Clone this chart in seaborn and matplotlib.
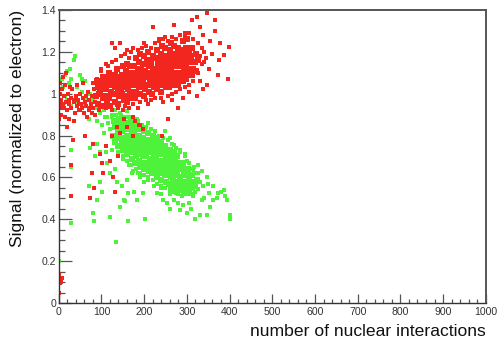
import matplotlib
matplotlib.use("Agg")
import matplotlib.pyplot as plt
import seaborn as sns
import pandas as pd
from matplotlib.ticker import MultipleLocator

# ---------------- data ----------------
red_core = [
    (91,0.95),(88,0.99),(93,1.03),(90,1.06),
    (99,0.94),(103,0.98),(97,1.01),(101,1.05),(104,1.08),
    (112,0.95),(108,0.99),(111,1.02),(107,1.05),(113,1.08),
    (121,0.94),(118,0.98),(123,1.01),(119,1.04),(122,1.07),(117,1.10),
    (131,0.96),(128,1.00),(133,1.03),(129,1.06),(132,1.09),
    (139,0.95),(142,0.99),(138,1.02),(143,1.05),(141,1.08),(137,1.12),
    (152,0.97),(148,1.00),(151,1.03),(153,1.06),(149,1.09),(150,1.13),
    (161,0.96),(158,0.99),(163,1.02),(159,1.05),(162,1.08),(157,1.11),(160,1.14),
    (171,0.98),(168,1.01),(173,1.04),(169,1.07),(172,1.10),(167,1.13),
    (179,0.98),(182,1.01),(178,1.04),(183,1.07),(181,1.10),(177,1.13),(180,1.17),
    (191,1.00),(188,1.03),(193,1.06),(189,1.09),(192,1.12),(187,1.15),(190,1.19),
    (199,0.99),(202,1.02),(198,1.05),(203,1.08),(201,1.11),(197,1.14),(200,1.18),
    (211,1.01),(208,1.04),(213,1.07),(209,1.10),(212,1.13),(207,1.16),(210,1.20),
    (219,1.00),(222,1.03),(218,1.06),(223,1.09),(221,1.12),(217,1.15),(220,1.18),
    (231,1.02),(228,1.05),(233,1.08),(229,1.11),(232,1.14),(227,1.17),(230,1.21),
    (239,1.01),(242,1.04),(238,1.07),(243,1.10),(241,1.13),(237,1.16),(240,1.19),(242,1.23),
    (251,1.03),(248,1.06),(253,1.09),(249,1.12),(252,1.15),(247,1.18),(250,1.22),
    (259,1.03),(262,1.06),(258,1.09),(263,1.12),(261,1.15),(257,1.18),(260,1.21),(262,1.24),
    (271,1.04),(268,1.07),(273,1.10),(269,1.13),(272,1.16),(267,1.19),(270,1.23),
    (279,1.04),(282,1.07),(278,1.10),(283,1.13),(281,1.16),(277,1.19),(280,1.22),
    (291,1.06),(288,1.09),(293,1.12),(289,1.15),(292,1.18),(287,1.21),(290,1.25),
    (299,1.07),(302,1.10),(298,1.13),(303,1.16),(301,1.19),(297,1.22),(300,1.26),
    (311,1.09),(308,1.12),(313,1.15),(309,1.18),(312,1.22),
    (321,1.11),(318,1.15),(322,1.19),
    (95,1.00),(105,1.03),(115,1.06),(125,1.05),(135,1.00),(145,1.02),(155,1.07),
    (165,1.05),(175,1.09),(185,1.12),(195,1.04),(205,1.09),(215,1.14),(225,1.10),
    (235,1.12),(245,1.08),(255,1.13),(265,1.18),(275,1.14),(285,1.10),(295,1.15),
    (305,1.20),(315,1.12),(325,1.16),
]

red_edge = [
    (100,1.11),(115,1.13),(125,1.15),(135,1.16),(145,1.18),(155,1.19),(165,1.17),
    (170,1.20),(185,1.21),(195,1.22),(205,1.23),(215,1.22),(225,1.24),(235,1.25),
    (245,1.26),(255,1.25),(265,1.27),(275,1.26),(285,1.28),(295,1.27),(305,1.29),
    (315,1.26),(325,1.24),(335,1.22),(330,1.18),(340,1.20),(345,1.17),(335,1.14),
    (325,1.10),(315,1.06),(305,1.04),
    (95,0.92),(110,0.93),(125,0.92),(140,0.93),(155,0.94),(165,0.93),(175,0.95),
    (190,0.96),(205,0.97),(215,0.97),(225,0.98),(240,0.98),(255,0.99),(265,1.00),
    (275,1.01),(285,1.02),(295,1.03),
]

red_tail = [
    (2,1.00),(5,0.97),(8,1.02),(3,0.93),(10,0.95),(12,0.99),(15,1.04),(6,0.90),
    (18,0.96),(20,0.92),(22,1.00),(25,0.95),(28,0.98),(30,0.93),(32,1.02),(35,0.96),
    (38,0.91),(40,0.99),(42,0.94),(45,0.97),(48,0.92),(50,1.00),(52,0.95),(55,0.93),
    (58,0.98),(60,0.91),(62,0.96),(65,0.94),(68,1.01),(70,0.92),(72,0.97),(75,0.95),
    (78,0.99),(80,0.93),(83,1.02),(85,0.96),(1,0.88),(4,1.05),(14,0.89),(27,1.03),
    (44,1.04),(58,1.05),(66,0.89),(86,0.90),(0,0.95),(0,1.02),(9,1.08),(36,0.87),
    (18,1.10),(12,0.93),(24,0.97),(47,0.95),(63,0.99),(77,0.91),
]

red_halo = [
    (348,1.387),(312,1.35),(323,1.365),(269,1.33),(220,1.32),(366,1.35),(331,1.32),
    (378,1.24),(398,1.225),(387,1.185),(396,1.07),(372,1.09),(347,1.04),(323,0.99),
    (280,0.93),(257,0.88),(241,0.80),(175,0.89),(191,0.85),(179,0.87),(124,1.24),
    (144,1.24),(132,1.22),(161,1.21),(89,1.07),(81,1.05),(338,1.28),(355,1.25),
    (360,1.19),(340,1.15),(352,1.12),(330,1.06),(305,1.01),(265,0.97),(245,0.96),
    (210,0.95),(185,0.93),(150,0.92),(295,1.29),(250,1.27),(235,1.26),(200,1.24),
    (175,1.22),(110,1.14),(100,1.12),(365,1.30),(375,1.16),(338,1.02),(290,0.98),
    (38,0.97),(50,0.92),(70,0.93),(23,0.88),(19,0.84),(33,0.78),(62,0.80),(81,0.76),
    (97,0.71),(111,0.75),(136,0.84),(144,0.81),(159,0.84),(153,0.88),(124,0.80),
    (101,0.67),(103,0.62),(120,0.68),(77,0.62),(83,0.55),(73,0.50),(132,0.53),
    (29,0.66),(29,0.51),(128,0.60),(140,0.70),(175,0.80),(198,0.83),(187,0.85),
    (0,0.14),(3,0.095),(1,0.05),(7,0.12),(5,0.10),
]

green_core = [
    (131,0.77),(128,0.80),(133,0.84),(129,0.87),
    (139,0.75),(142,0.79),(138,0.82),(143,0.85),(141,0.88),
    (151,0.73),(148,0.76),(153,0.79),(149,0.82),(152,0.85),(147,0.88),
    (161,0.71),(158,0.74),(163,0.77),(159,0.80),(162,0.83),(157,0.86),
    (171,0.69),(168,0.72),(173,0.75),(169,0.78),(172,0.81),(167,0.84),(170,0.87),
    (179,0.67),(182,0.70),(178,0.73),(183,0.76),(181,0.79),(177,0.82),(180,0.85),
    (191,0.65),(188,0.68),(193,0.71),(189,0.74),(192,0.77),(187,0.80),(190,0.83),
    (199,0.64),(202,0.67),(198,0.70),(203,0.73),(201,0.76),(197,0.79),(200,0.82),
    (211,0.63),(208,0.66),(213,0.69),(209,0.72),(212,0.75),(207,0.78),(210,0.81),
    (219,0.62),(222,0.65),(218,0.68),(223,0.71),(221,0.74),(217,0.77),(220,0.80),
    (231,0.60),(228,0.63),(233,0.66),(229,0.69),(232,0.72),(227,0.75),(230,0.78),
    (239,0.59),(242,0.62),(238,0.65),(243,0.68),(241,0.71),(237,0.74),(240,0.77),
    (251,0.58),(248,0.61),(253,0.64),(249,0.67),(252,0.70),(247,0.73),(250,0.75),
    (259,0.57),(262,0.60),(258,0.63),(263,0.66),(261,0.69),(257,0.71),(260,0.73),
    (271,0.56),(268,0.59),(273,0.62),(269,0.65),(272,0.68),(267,0.70),(270,0.72),
    (279,0.55),(282,0.58),(278,0.61),(283,0.64),(281,0.67),(277,0.70),
    (291,0.55),(288,0.58),(293,0.61),(289,0.64),(292,0.67),
    (299,0.55),(302,0.58),(298,0.61),(303,0.64),
    (311,0.55),(308,0.58),(313,0.61),
    (135,0.80),(145,0.83),(155,0.78),(165,0.75),(175,0.80),(185,0.72),(195,0.76),
    (205,0.70),(215,0.74),(225,0.68),(235,0.71),(245,0.65),(255,0.69),(265,0.62),
    (275,0.66),(285,0.60),(295,0.63),(305,0.60),(315,0.58),
    (286,0.54),(296,0.53),(306,0.53),(318,0.56),(323,0.59),(276,0.53),(264,0.55),
]

green_edge = [
    (125,0.89),(135,0.90),(145,0.90),(155,0.89),(165,0.89),(175,0.88),(185,0.87),
    (195,0.85),(205,0.84),(215,0.83),(225,0.82),(235,0.80),(245,0.79),(255,0.78),
    (265,0.76),(275,0.74),(285,0.72),(295,0.70),(305,0.67),(315,0.64),(325,0.62),
    (330,0.58),
    (140,0.72),(150,0.70),(160,0.68),(170,0.66),(180,0.64),(190,0.62),(200,0.61),
    (210,0.60),(220,0.59),(230,0.57),(240,0.56),(250,0.55),(260,0.54),(270,0.53),
    (280,0.52),(290,0.52),(300,0.52),(310,0.52),(320,0.53),
]

green_tail = [
    (38,1.18),(36,1.16),(27,1.12),(19,1.11),(15,1.09),(7,1.07),(3,1.06),(11,1.03),
    (23,1.05),(30,1.07),(50,1.09),(54,1.07),(62,1.06),(42,1.03),(54,1.01),(73,1.00),
    (66,0.97),(81,0.97),(93,0.94),(77,0.91),(97,0.91),(105,0.92),(113,0.89),(70,0.88),
    (89,0.87),(101,0.85),(116,0.86),(120,0.83),(3,1.00),(15,0.99),(42,0.95),(30,0.94),
    (62,0.95),(19,0.97),(132,0.92),(144,0.91),(159,0.915),(171,0.89),(183,0.88),
    (108,0.89),(125,0.90),(85,0.93),
]

green_halo = [
    (105,0.81),(89,0.76),(73,0.74),(97,0.72),(85,0.70),(111,0.72),(124,0.73),
    (112,0.67),(132,0.64),(120,0.62),(97,0.58),(101,0.53),(89,0.49),(136,0.58),
    (148,0.56),(159,0.59),(171,0.62),(163,0.525),(152,0.49),(144,0.46),(155,0.485),
    (177,0.53),(183,0.49),(198,0.525),(70,0.56),(81,0.43),(83,0.39),(120,0.41),
    (134,0.29),(162,0.39),(203,0.40),(29,0.73),(28,0.65),(30,0.38),(1,0.20),
    (5,0.11),(6,0.10),(245,0.49),(253,0.48),(261,0.45),(284,0.445),(300,0.43),
    (320,0.40),(331,0.42),(347,0.42),(362,0.49),(374,0.525),(387,0.54),(395,0.49),
    (400,0.42),(400,0.40),(390,0.51),(351,0.525),(339,0.56),(327,0.59),(316,0.62),
    (300,0.54),(288,0.51),(277,0.525),(269,0.49),(230,0.525),(222,0.56),(210,0.59),
    (347,0.60),(362,0.56),(335,0.49),(306,0.48),(249,0.82),(230,0.795),(269,0.755),
    (284,0.73),(300,0.68),(316,0.65),(190,0.60),(175,0.63),(165,0.66),(150,0.69),
    (260,0.52),(290,0.47),(315,0.51),(325,0.545),(340,0.50),(355,0.46),(370,0.50),
    (310,0.45),(280,0.48),(240,0.55),(200,0.58),(185,0.62),(140,0.72),(210,0.86),
    (260,0.79),(295,0.71),(325,0.66),(335,0.63),(350,0.57),(380,0.53),(240,0.52),
]

x_ticks = [0, 100, 200, 300, 400, 500, 600, 700, 800, 900, 1000]
y_ticks = [0, 0.2, 0.4, 0.6, 0.8, 1.0, 1.2, 1.4]
y_tick_labels = ["0", "0.2", "0.4", "0.6", "0.8", "1", "1.2", "1.4"]
x_label = "number of nuclear interactions"
y_label = "Signal (normalized to electron)"

# ---------------- figure ----------------
sns.set_style("white")
plt.rcParams["font.family"] = ["Liberation Sans", "DejaVu Sans"]

RED = "#f2261e"
GREEN = "#4ff23a"

def frame(pts, group):
    return pd.DataFrame({"x": [p[0] for p in pts], "y": [p[1] for p in pts], "g": group})

fig = plt.figure(figsize=(4.99, 3.43), dpi=100)
ax = fig.add_axes([0.1176, 0.1166, 0.856, 0.8544])

layers = [
    (frame(green_halo, "gh"), GREEN, 9),
    (frame(green_tail, "gt"), GREEN, 9),
    (frame(green_core, "gc"), GREEN, 24),
    (frame(green_edge, "ge"), GREEN, 9),
    (frame(red_halo, "rh"), RED, 9),
    (frame(red_tail, "rt"), RED, 9),
    (frame(red_core, "rc"), RED, 24),
    (frame(red_edge, "re"), RED, 9),
]
for df, col, s in layers:
    sns.scatterplot(data=df, x="x", y="y", color=col, marker="s", s=s,
                    linewidth=0, ax=ax, legend=False)

ax.set_xlim(0, 1000)
ax.set_ylim(0, 1.4)
ax.set_xticks(x_ticks)
ax.set_xticklabels([str(t) for t in x_ticks])
ax.set_yticks(y_ticks)
ax.set_yticklabels(y_tick_labels)
ax.xaxis.set_minor_locator(MultipleLocator(20))
ax.yaxis.set_minor_locator(MultipleLocator(0.05))

ax.tick_params(which="both", bottom=True, left=True, top=False, right=False)
ax.tick_params(axis="x", which="major", direction="in", length=6.3, width=0.9,
               color="#555555", labelsize=7.6, pad=3, labelcolor="#333333")
ax.tick_params(axis="x", which="minor", direction="in", length=3.2, width=0.9,
               color="#555555")
ax.tick_params(axis="y", which="major", direction="in", length=9.2, width=0.9,
               color="#555555", labelsize=7.6, pad=2, labelcolor="#333333")
ax.tick_params(axis="y", which="minor", direction="in", length=4.6, width=0.9,
               color="#555555")

for side in ["left", "bottom"]:
    ax.spines[side].set_color("#333333")
    ax.spines[side].set_linewidth(1.0)
for side in ["top", "right"]:
    ax.spines[side].set_color("#555555")
    ax.spines[side].set_linewidth(1.4)

ax.set_xlabel(x_label, fontsize=12.6, color="#111111", ha="right")
ax.xaxis.set_label_coords(1.0, -0.07)
ax.set_ylabel(y_label, fontsize=12.6, color="#111111", ha="right")
ax.yaxis.set_label_coords(-0.08, 1.0)

fig.savefig("out.png", dpi=100)
